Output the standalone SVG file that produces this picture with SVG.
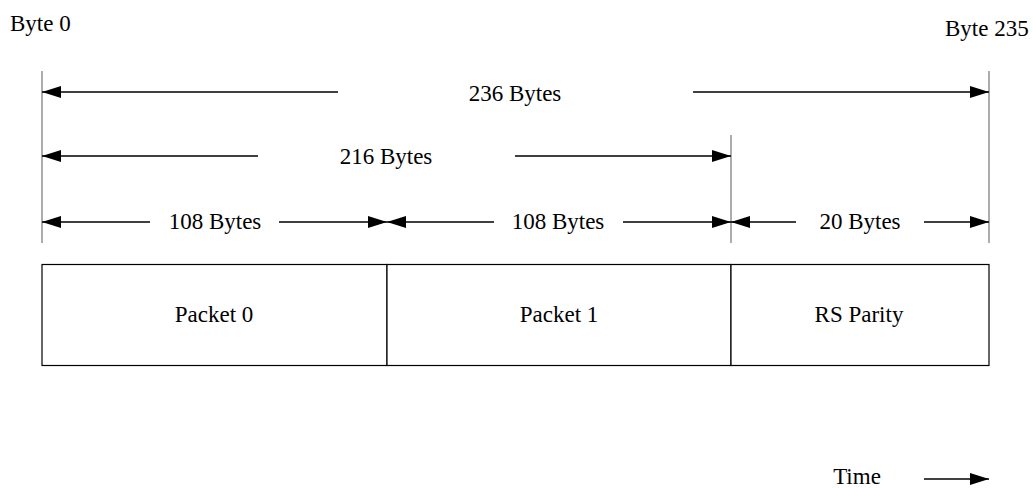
<svg xmlns="http://www.w3.org/2000/svg" width="1033" height="488" viewBox="0 0 1033 488">
<style>
text{font-family:"Liberation Serif","Times New Roman",serif;font-size:23px;fill:#000}
.m{text-anchor:middle}
.dim{stroke:#000;stroke-width:1.3;fill:none}
.tick{stroke:#808080;stroke-width:1.3}
.box{fill:#fff;stroke:#000;stroke-width:1.2}
</style>
<defs>
<marker id="ah" markerUnits="userSpaceOnUse" markerWidth="20" markerHeight="13" refX="19" refY="6" orient="auto-start-reverse">
<path d="M0,0 L19,6 L0,12 z" fill="#000"/>
</marker>
</defs>
<rect width="1033" height="488" fill="#fff"/>
<g id="labels">
<text x="10" y="31">Byte 0</text>
<text x="945" y="36">Byte 235</text>
</g>
<g id="ticks">
<line class="tick" x1="42" y1="71" x2="42" y2="243"/>
<line class="tick" x1="989" y1="71" x2="989" y2="243"/>
<line class="tick" x1="731" y1="135" x2="731" y2="243"/>
</g>
<g id="connectors">
<line class="dim" x1="42" y1="92" x2="338" y2="92" marker-start="url(#ah)"/>
<line class="dim" x1="693" y1="92" x2="989" y2="92" marker-end="url(#ah)"/>
<line class="dim" x1="42" y1="156" x2="258" y2="156" marker-start="url(#ah)"/>
<line class="dim" x1="515" y1="156" x2="731" y2="156" marker-end="url(#ah)"/>
<line class="dim" x1="42" y1="222" x2="150" y2="222" marker-start="url(#ah)"/>
<line class="dim" x1="279" y1="222" x2="387" y2="222" marker-end="url(#ah)"/>
<line class="dim" x1="387" y1="222" x2="494" y2="222" marker-start="url(#ah)"/>
<line class="dim" x1="623" y1="222" x2="731" y2="222" marker-end="url(#ah)"/>
<line class="dim" x1="731" y1="222" x2="796" y2="222" marker-start="url(#ah)"/>
<line class="dim" x1="924" y1="222" x2="989" y2="222" marker-end="url(#ah)"/>
<line class="dim" x1="924" y1="479" x2="989" y2="479" marker-end="url(#ah)"/>
</g>
<g id="dimension-labels">
<text class="m" x="515" y="101">236 Bytes</text>
<text class="m" x="386" y="164">216 Bytes</text>
<text class="m" x="215" y="229">108 Bytes</text>
<text class="m" x="558" y="229">108 Bytes</text>
<text class="m" x="860" y="229">20 Bytes</text>
</g>
<g id="packet0">
<rect class="box" x="42" y="264.5" width="345" height="101"/>
<text class="m" x="214" y="322">Packet 0</text>
</g>
<g id="packet1">
<rect class="box" x="387" y="264.5" width="344" height="101"/>
<text class="m" x="559" y="322">Packet 1</text>
</g>
<g id="rsparity">
<rect class="box" x="731" y="264.5" width="258" height="101"/>
<text class="m" x="859" y="322">RS Parity</text>
</g>
<g id="time">
<text class="m" x="857" y="484">Time</text>
</g>
</svg>
